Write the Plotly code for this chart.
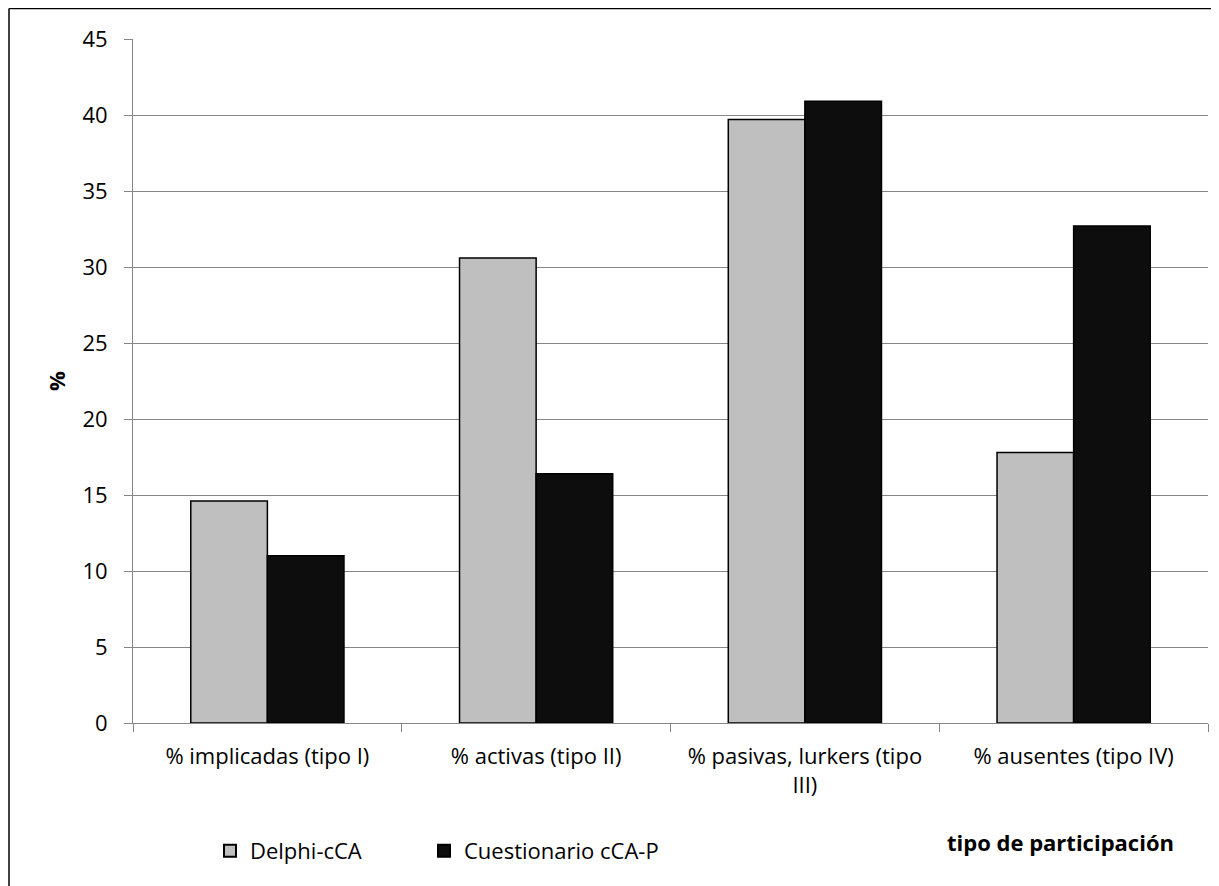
import plotly.graph_objects as go

categories = ["% implicadas (tipo I)", "% activas (tipo II)", "% pasivas, lurkers (tipo<br>III)", "% ausentes (tipo IV)"]
delphi = [14.6, 30.6, 39.7, 17.8]
cuestionario = [11.0, 16.4, 40.9, 32.7]
series_names = ["Delphi-cCA", "Cuestionario cCA-P"]
y_ticks = [0, 5, 10, 15, 20, 25, 30, 35, 40, 45]

OFF = 8  # page body margin
W, H = 1219 - OFF, 886 - OFF
# plot area in screenshot coordinates
L, R, T, B = 133, 1208, 39, 723
pw, ph = R - L, B - T

def px(x):
    return (x - L) / pw

def py(y):
    return (B - y) / ph

FONT = "Open Sans"
GRID = "#868686"

fig = go.Figure()
fig.add_trace(go.Bar(x=categories, y=delphi, name=series_names[0], legend="legend",
                     marker=dict(color="#BFBFBF", line=dict(color="#000000", width=1.5))))
fig.add_trace(go.Bar(x=categories, y=cuestionario, name=series_names[1], legend="legend2",
                     marker=dict(color="#0D0D0D", line=dict(color="#000000", width=1.5))))

leg_common = dict(orientation="h", xanchor="left", yanchor="middle",
                  font=dict(size=22), itemsizing="constant", bgcolor="rgba(0,0,0,0)")

fig.update_layout(
    width=W, height=H,
    margin=dict(l=L - OFF, r=W - (R - OFF), t=T - OFF, b=H - (B - OFF), autoexpand=False),
    paper_bgcolor="white", plot_bgcolor="white",
    font=dict(family=FONT, size=22, color="#000000"),
    barmode="group", bargap=0.43, bargroupgap=0,
    showlegend=True,
    legend=dict(x=px(210), y=py(851), **leg_common),
    legend2=dict(x=px(424), y=py(851), **leg_common),
    xaxis=dict(type="category", range=[-0.5, 3.5], showline=True, linecolor=GRID, linewidth=1,
               ticks="outside", tickson="boundaries", ticklen=8, tickcolor=GRID,
               showgrid=False, tickfont=dict(size=22), ticklabelstandoff=14, fixedrange=True),
    yaxis=dict(range=[0, 45], tickvals=y_ticks, showline=True, linecolor=GRID, linewidth=1,
               ticks="outside", ticklen=8, tickcolor=GRID, showgrid=True, gridcolor=GRID,
               gridwidth=1, zeroline=False, tickfont=dict(size=22), ticklabelstandoff=12,
               title=dict(text="<b>%</b>", font=dict(size=22), standoff=10)),
    shapes=[
        dict(type="line", xref="paper", yref="paper", x0=px(9), x1=px(9), y0=py(8.5), y1=py(900),
             line=dict(color="#000000", width=1.5)),
        dict(type="line", xref="paper", yref="paper", x0=px(9), x1=px(1240), y0=py(8.5), y1=py(8.5),
             line=dict(color="#000000", width=1.5)),
    ],
    annotations=[
        dict(text="<b>tipo de participación</b>", xref="paper", yref="paper",
             x=px(1060), y=py(842), xanchor="center", yanchor="middle", showarrow=False,
             font=dict(size=22)),
    ],
)

fig.write_html("out.html")
